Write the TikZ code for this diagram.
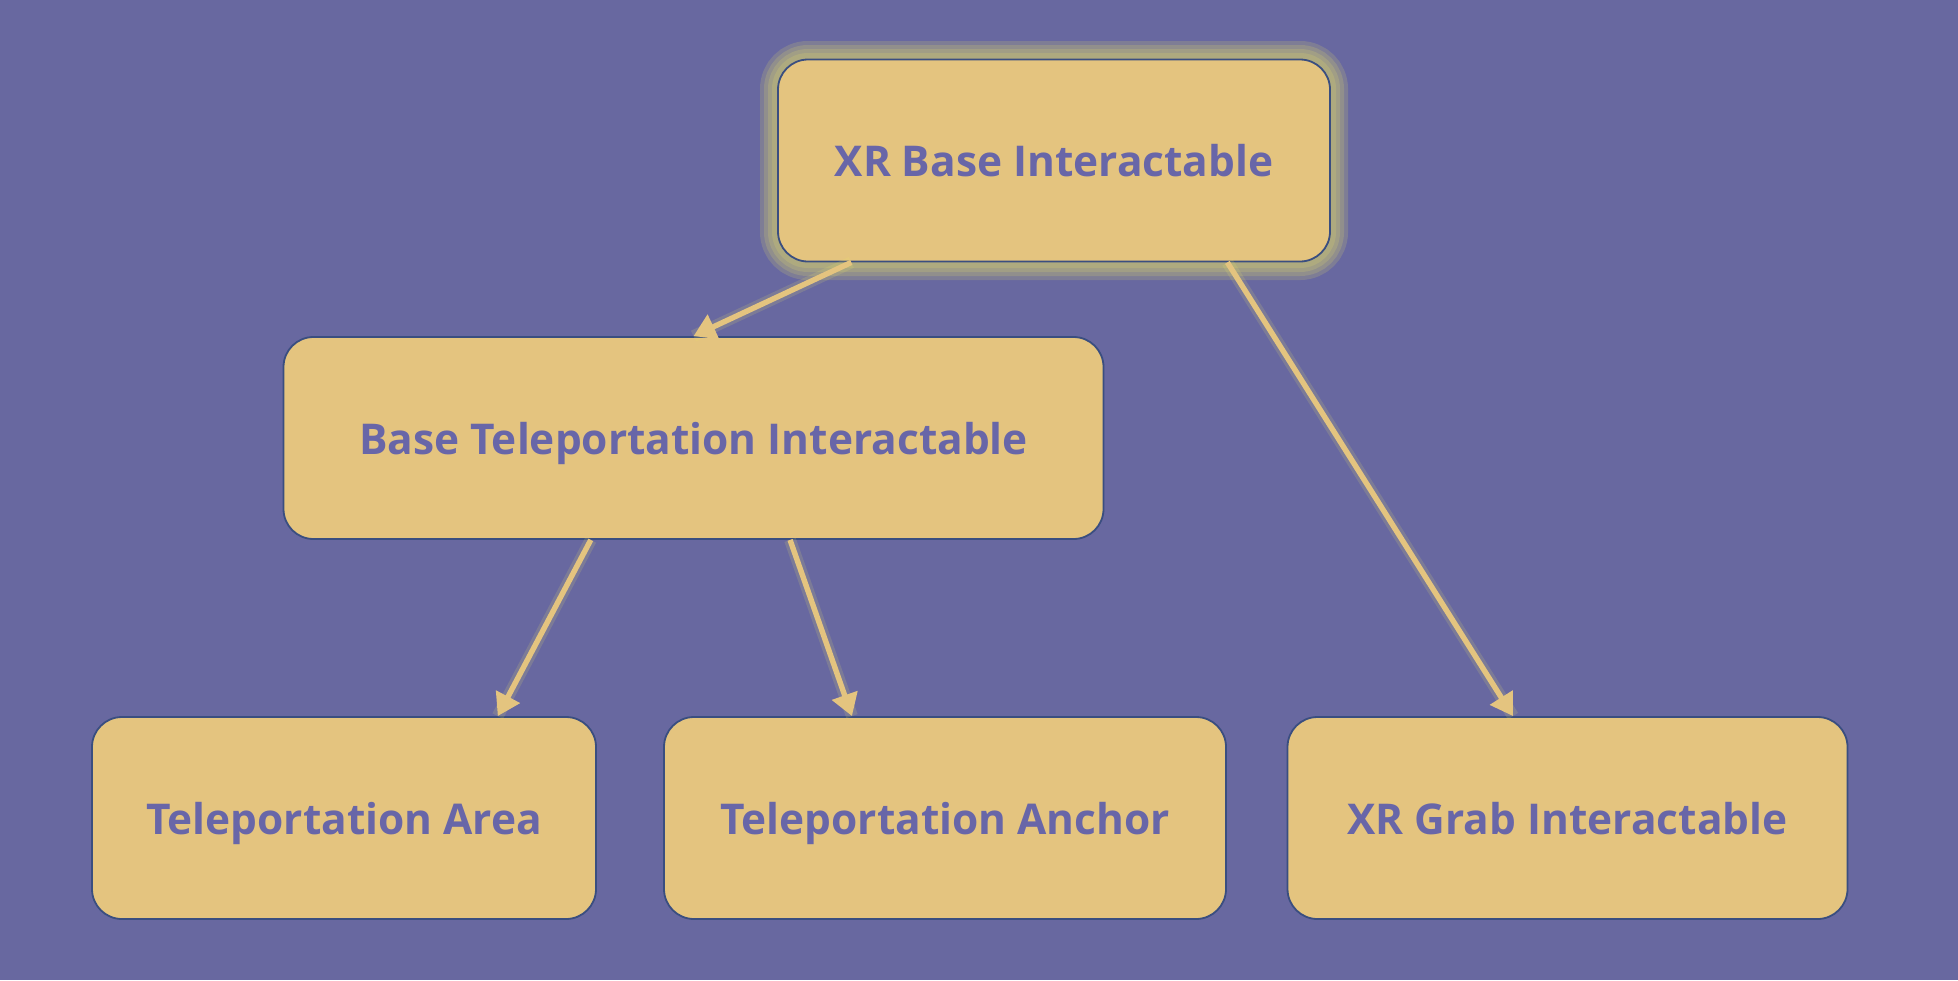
\documentclass[tikz,border=0pt]{standalone}
\usepackage{fontspec}
\setmainfont{Open Sans}[BoldFont={* Bold}]
\usetikzlibrary{arrows.meta,calc}

\definecolor{bgpurple}{RGB}{104,104,160}
\definecolor{boxgold}{RGB}{228,196,127}
\definecolor{boxline}{RGB}{58,78,128}
\definecolor{labelpurple}{RGB}{104,102,168}
\definecolor{glowgold}{RGB}{240,232,100}

\begin{document}
\begin{tikzpicture}[x=0.5pt, y=-0.5pt,
   every node/.style={draw=boxline, line width=0.9pt, fill=boxgold, rounded corners=15pt,
      minimum height=101pt, inner sep=0pt, text=labelpurple,
      text height=16pt, text depth=0pt,
      font=\fontsize{21.2}{25}\selectfont\bfseries},
   link/.style={draw=boxgold, line width=2.7pt, -{Triangle[length=11pt,width=13pt]}},
   linkglow/.style={draw=glowgold, line width=6pt, opacity=0.15}]

\fill[bgpurple] (0,0) rectangle (1958,980);
\useasboundingbox (0,0) rectangle (1958,980);

% soft glow round the root
\foreach \w in {18,14,10,6} {
  \draw[glowgold, opacity=0.17, line width=\w pt, rounded corners=15pt]
     (778,59) rectangle (1330,262);
}

\node[minimum width=276pt] (base)   at (1054,160.5) {XR Base Interactable};
\node[minimum width=410pt] (tele)   at (693.5,438)  {Base Teleportation Interactable};
\node[minimum width=252pt] (area)   at (344,818)    {Teleportation Area};
\node[minimum width=281pt] (anchor) at (945,818)    {Teleportation Anchor};
\node[minimum width=280pt] (grab)   at (1567.5,818) {XR Grab Interactable};

\coordinate (b1) at ($(base.south west)!0.134!(base.south east)$);
\coordinate (b2) at ($(base.south west)!0.813!(base.south east)$);
\coordinate (t1) at ($(tele.south west)!0.375!(tele.south east)$);
\coordinate (t2) at ($(tele.south west)!0.6175!(tele.south east)$);
\coordinate (a1) at ($(area.north west)!0.804!(area.north east)$);
\coordinate (n1) at ($(anchor.north west)!0.335!(anchor.north east)$);
\coordinate (g1) at ($(grab.north west)!0.403!(grab.north east)$);

\foreach \from/\to in {b1/tele.north, b2/g1, t1/a1, t2/n1} {
  \draw[linkglow] (\from) -- (\to);
  \draw[link] (\from) -- (\to);
}

\end{tikzpicture}
\end{document}
